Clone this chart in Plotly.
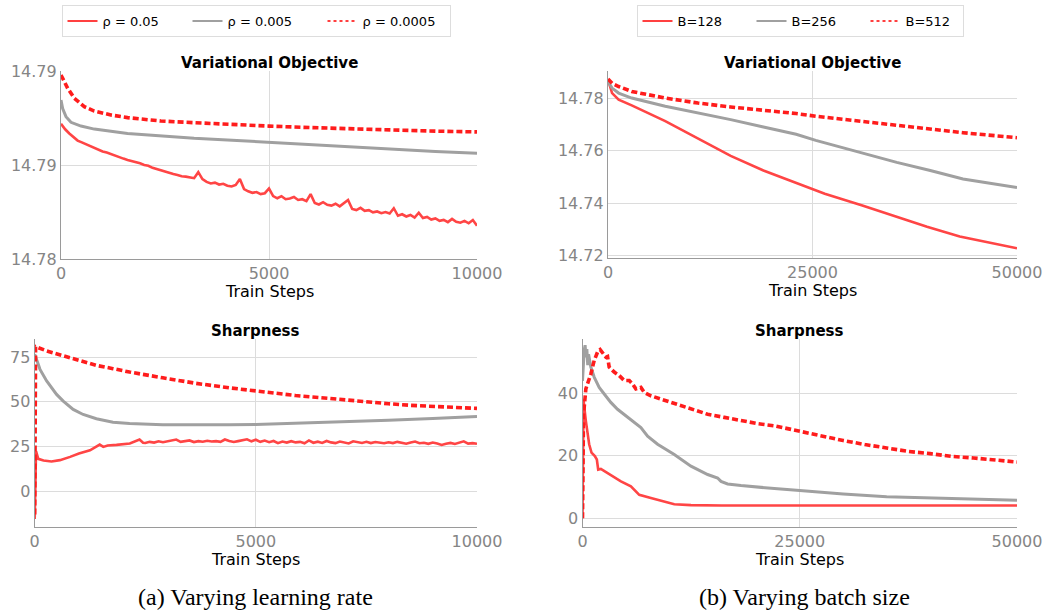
import plotly.graph_objects as go

# ---------------- data: (a) varying learning rate ----------------
a_labels = ["ρ = 0.05", "ρ = 0.005", "ρ = 0.0005"]

# Variational objective
a_obj_steps_r05 = list(range(0, 10001, 100))
a_obj_r05 = [
    14.78719, 14.78690, 14.78668, 14.78648, 14.78630, 14.78620, 14.78610, 14.78602, 14.78590, 14.78580,
    14.78572, 14.78566, 14.78557, 14.78550, 14.78540, 14.78534, 14.78527, 14.78522, 14.78514, 14.78509,
    14.78500, 14.78496, 14.78485, 14.78478, 14.78470, 14.78462, 14.78455, 14.78452, 14.78447, 14.78440,
    14.78438, 14.78432, 14.78430, 14.78462, 14.78425, 14.78410, 14.78402, 14.78406, 14.78396, 14.78400,
    14.78390, 14.78386, 14.78394, 14.78425, 14.78372, 14.78360, 14.78352, 14.78356, 14.78345, 14.78350,
    14.78375, 14.78335, 14.78323, 14.78334, 14.78318, 14.78322, 14.78330, 14.78314, 14.78318, 14.78308,
    14.78345, 14.78298, 14.78290, 14.78302, 14.78288, 14.78284, 14.78294, 14.78280, 14.78296, 14.78314,
    14.78266, 14.78260, 14.78272, 14.78256, 14.78260, 14.78248, 14.78253, 14.78244, 14.78250, 14.78242,
    14.78270, 14.78230, 14.78238, 14.78226, 14.78234, 14.78220, 14.78246, 14.78218, 14.78224, 14.78210,
    14.78216, 14.78203, 14.78208, 14.78196, 14.78213, 14.78198, 14.78193, 14.78203, 14.78190, 14.78207,
    14.78177,
]
a_obj_steps_r005 = [0, 40, 120, 240, 480, 800, 1600, 2400, 3200, 4000, 5000, 6000, 7000, 8000, 9000, 10000]
a_obj_r005 = [14.78846, 14.78800, 14.78757, 14.78727, 14.78707, 14.78691, 14.78668, 14.78654,
              14.78642, 14.78633, 14.78620, 14.78607, 14.78595, 14.78584, 14.78572, 14.78563]
a_obj_steps_r0005 = [0, 160, 320, 560, 800, 1200, 1600, 2400, 3200, 4000, 5000, 6000, 7000, 8000, 9000, 10000]
a_obj_r0005 = [14.78979, 14.78908, 14.78855, 14.78810, 14.78787, 14.78766, 14.78752, 14.78734,
               14.78725, 14.78716, 14.78707, 14.78699, 14.78692, 14.78687, 14.78680, 14.78676]
a_obj_ticks = [14.78, 14.785, 14.79]
a_obj_ticktext = ["14.78", "14.79", "14.79"]

# Sharpness
a_sh_steps_r05 = [0, 30, 80, 200, 380, 570, 800, 1000, 1250, 1400, 1470, 1550, 1650, 1850, 2150, 2370, 2450] + list(range(2500, 10001, 100))
a_sh_r05 = [
    -15.5, 22.4, 18.1, 17.2, 16.6, 17.4, 19.2, 21.1, 22.9, 24.8, 26.1, 24.8, 25.6, 25.9, 26.7, 28.9, 27.1,
    27.0, 27.6, 27.2, 27.9, 27.4,
    27.8, 28.6, 28.9, 27.6, 27.9, 28.4, 27.5, 28.0, 27.7, 28.2,
    27.8, 28.0, 27.6, 28.9, 28.1, 27.5, 28.0, 28.4, 29.0, 27.9,
    28.8, 27.6, 28.3, 27.4, 28.1, 26.9, 27.8, 27.2, 28.0, 27.3,
    27.6, 26.8, 28.4, 27.1, 27.7, 27.0, 28.1, 27.3, 26.9, 27.8,
    27.2, 26.7, 27.9, 27.4, 27.0, 27.6, 26.9, 27.5, 27.1, 26.8,
    27.4, 26.9, 27.6, 27.0, 26.6, 27.3, 27.8, 26.8, 27.1, 26.5,
    27.2, 26.7, 25.9, 26.6, 27.0, 26.4, 27.1, 27.9, 26.6, 26.9,
    26.5,
]
a_sh_steps_r005 = [0, 120, 270, 495, 645, 870, 1095, 1395, 1770, 2145, 2895, 3645, 4395, 4995, 5895, 6645, 7500, 8000, 9000, 10000]
a_sh_r005 = [76.5, 68.1, 61.6, 54.1, 50.4, 45.7, 42.9, 40.5, 38.6, 37.9, 37.1, 36.9, 37.1, 37.3, 37.9, 38.4, 39.2, 39.7, 40.7, 41.7]
a_sh_steps_r0005 = [0, 20, 270, 645, 1020, 1395, 1770, 2145, 2895, 3645, 4395, 4995, 5895, 6645, 7000, 7500, 8000, 8500, 9000, 9500, 10000]
a_sh_r0005 = [-13.0, 80.8, 78.4, 75.6, 72.8, 70.3, 68.5, 66.6, 63.4, 60.3, 57.8, 56.0, 53.5, 51.9, 51.0, 49.9, 48.9, 48.0, 47.3, 46.7, 46.3]
a_sh_ticks = [0, 25, 50, 75]

# ---------------- data: (b) varying batch size ----------------
b_labels = ["B=128", "B=256", "B=512"]

b_obj_steps_128 = [0, 500, 1300, 2900, 7000, 11000, 15000, 19000, 23000, 26500, 31000, 35000, 39000, 43000, 50000]
b_obj_128 = [14.7869, 14.7819, 14.7794, 14.7772, 14.7712, 14.7647, 14.7580, 14.7524, 14.7476, 14.7436,
             14.7392, 14.7351, 14.7310, 14.7273, 14.7228]
b_obj_steps_256 = [0, 500, 1300, 2900, 7000, 11000, 15000, 19000, 23000, 25400, 27200, 31300, 35300, 39400, 43400, 50000]
b_obj_256 = [14.7863, 14.7838, 14.7819, 14.7800, 14.7769, 14.7744, 14.7718, 14.7690, 14.7662, 14.7639,
             14.7624, 14.7589, 14.7555, 14.7524, 14.7492, 14.7459]
b_obj_steps_512 = [0, 500, 1300, 2900, 7000, 11000, 15000, 19000, 23000, 25400, 31300, 35300, 39400, 43400, 50000]
b_obj_512 = [14.7873, 14.7856, 14.7844, 14.7825, 14.7800, 14.7781, 14.7766, 14.7754, 14.7741, 14.7731,
             14.7710, 14.7696, 14.7681, 14.7668, 14.7649]
b_obj_ticks = [14.72, 14.74, 14.76, 14.78]

b_sh_steps_128 = [0, 115, 384, 768, 1036, 1420, 1650, 1805, 2110, 2880, 4420, 5570, 6530, 7870, 9410, 10560, 12480, 16000, 25000, 50000]
b_sh_128 = [0.0, 38.0, 31.2, 23.7, 21.0, 19.9, 18.8, 15.6, 15.8, 14.5, 11.8, 10.2, 7.5, 6.5, 5.4, 4.5, 4.2, 4.1, 4.1, 4.1]
b_sh_steps_256 = [0, 100, 200, 300, 400, 500, 600, 700, 800, 960, 1344, 1920, 2500, 3260, 4030, 5180, 6720, 7490, 8640,
                  10560, 12480, 14400, 15550, 15940, 16700, 18240, 20160, 22080, 25000, 27500, 30000, 35000, 40000, 45000, 50000]
b_sh_256 = [44.0, 50.0, 54.0, 55.4, 51.5, 54.2, 49.0, 52.5, 50.2, 48.4, 45.2, 41.9, 39.8, 37.1, 34.9, 32.3, 29.0, 26.3, 23.7,
            20.4, 16.7, 14.0, 12.9, 11.8, 11.0, 10.5, 9.9, 9.5, 8.9, 8.3, 7.8, 6.9, 6.5, 6.1, 5.8]
b_sh_steps_512 = [0, 115, 384, 960, 1344, 1728, 2035, 2420, 2688, 2880, 3070, 3650, 4220, 4800, 5380, 5760, 6140, 6720, 7100,
                  7870, 9020, 10560, 12480, 14400, 16320, 18240, 20160, 22080, 25000, 27500, 30000, 32500, 35000, 37500,
                  40000, 42500, 45000, 47500, 50000]
b_sh_512 = [0.0, 33.0, 41.4, 46.2, 50.5, 53.2, 54.0, 52.7, 51.6, 51.8, 48.4, 46.8, 45.7, 44.1, 44.1, 43.0, 41.4, 41.9, 40.3,
            39.2, 38.2, 36.6, 34.9, 33.3, 32.3, 31.2, 30.3, 29.6, 27.8, 26.3, 24.9, 23.6, 22.5, 21.4,
            20.7, 19.8, 19.3, 18.6, 18.0]
b_sh_ticks = [0, 20, 40]

x_ticks_a = [0, 5000, 10000]
x_ticks_b = [0, 25000, 50000]

captions = ["(a) Varying learning rate", "(b) Varying batch size"]
titles = ["Variational Objective", "Sharpness"]
x_title = "Train Steps"

# ---------------- styling ----------------
W, H = 1053, 613
RED_SOLID = "#ff4545"
GRAY = "#a0a0a0"
RED_DASH = "#ff1c1c"
TICK_COLOR = "#858585"
GRID = "#dcdcdc"


def dom_x(p0, p1):
    return [p0 / W, p1 / W]


def dom_y(top, bottom):
    return [1 - bottom / H, 1 - top / H]


fig = go.Figure()

panels = [
    ("x", "y", (61, 477), (71, 259),
     [(a_obj_steps_r05, a_obj_r05), (a_obj_steps_r005, a_obj_r005), (a_obj_steps_r0005, a_obj_r0005)],
     [0, 10000], [14.78, 14.79], x_ticks_a, a_obj_ticks, a_obj_ticktext, titles[0]),
    ("x2", "y2", (608, 1017), (71, 257.5),
     [(b_obj_steps_128, b_obj_128), (b_obj_steps_256, b_obj_256), (b_obj_steps_512, b_obj_512)],
     [0, 50000], [14.7193, 14.7903], x_ticks_b, b_obj_ticks, None, titles[0]),
    ("x3", "y3", (34.7, 477), (339.3, 526.7),
     [(a_sh_steps_r05, a_sh_r05), (a_sh_steps_r005, a_sh_r005), (a_sh_steps_r0005, a_sh_r0005)],
     [0, 10000], [-19.8, 84.9], x_ticks_a, a_sh_ticks, None, titles[1]),
    ("x4", "y4", (582.5, 1017), (339.3, 526.7),
     [(b_sh_steps_128, b_sh_128), (b_sh_steps_256, b_sh_256), (b_sh_steps_512, b_sh_512)],
     [0, 50000], [-2.7, 57.3], x_ticks_b, b_sh_ticks, None, titles[1]),
]

styles = [
    dict(color=RED_SOLID, width=2.6),
    dict(color=GRAY, width=3),
    dict(color=RED_DASH, width=3.6, dash="6px,3px"),
]

layout_axes = {}
annotations = []
for i, (xa, ya, xd, yd, series, xr, yr, xt, yt, ytt, ttl) in enumerate(panels):
    for (sx, sy), st in zip(series, styles):
        fig.add_trace(go.Scatter(x=sx, y=sy, mode="lines", line=st, xaxis=xa, yaxis=ya,
                                 showlegend=False, hoverinfo="skip"))
    xkey = "xaxis" + xa[1:]
    ykey = "yaxis" + ya[1:]
    layout_axes[xkey] = dict(
        domain=dom_x(*xd), anchor=ya, range=xr, tickvals=xt, ticktext=[str(v) for v in xt],
        showgrid=True, gridcolor=GRID, automargin=False,
        gridwidth=1, zeroline=False, showline=True, linecolor="#9a9a9a", linewidth=1.2,
        ticks="", tickfont=dict(family="DejaVu Sans", size=16, color=TICK_COLOR),
    )
    yax = dict(
        domain=dom_y(*yd), anchor=xa, range=yr, tickvals=yt, showgrid=True, gridcolor=GRID,
        gridwidth=1, zeroline=False, showline=True, linecolor="#9a9a9a", linewidth=1.2, automargin=False,
        ticks="", tickfont=dict(family="DejaVu Sans", size=16, color=TICK_COLOR),
    )
    if ytt is not None:
        yax["ticktext"] = ytt
    layout_axes[ykey] = yax

    cx = (xd[0] + xd[1]) / 2 / W
    # panel title
    annotations.append(dict(
        text="<b>" + ttl + "</b>", x=cx, y=1 - (yd[0] - 8) / H, xref="paper", yref="paper",
        xanchor="center", yanchor="middle", showarrow=False,
        font=dict(family="DejaVu Sans", size=15, color="black"),
    ))
    # x-axis title
    annotations.append(dict(
        text=x_title, x=cx, y=1 - (yd[1] + 22) / H, xref="paper", yref="paper",
        xanchor="center", yanchor="top", showarrow=False, borderpad=0,
        font=dict(family="DejaVu Sans", size=16, color="black"),
    ))

legend_styles = [
    dict(color="#ff0000", width=1.5),
    dict(color="#808080", width=1.5),
    dict(color="#ff0000", width=1.5, dash="dot"),
]
a_widths = [80, 90, 82]
b_widths = [69, 69, 52]
for lab, st, w in zip(a_labels, legend_styles, a_widths):
    fig.add_trace(go.Scatter(x=[None], y=[None], mode="lines", line=st, name=lab, legend="legend",
                             legendwidth=w, xaxis="x", yaxis="y"))
for lab, st, w in zip(b_labels, legend_styles, b_widths):
    fig.add_trace(go.Scatter(x=[None], y=[None], mode="lines", line=st, name=lab, legend="legend2",
                             legendwidth=w, xaxis="x2", yaxis="y2"))

for cx, cap in zip([255, 804], captions):
    annotations.append(dict(
        text=cap, x=cx / W, y=1 - 597 / H, xref="paper", yref="paper", xanchor="center",
        yanchor="middle", showarrow=False, font=dict(family="Liberation Serif", size=24, color="black"),
    ))

legend_common = dict(
    orientation="h", xanchor="center", yanchor="top", y=1 - 5 / H, bgcolor="white",
    bordercolor="#dddddd", borderwidth=1, font=dict(family="DejaVu Sans", size=13, color="black"),
    itemwidth=30, tracegroupgap=0,
)

fig.update_layout(
    width=W, height=H, margin=dict(l=0, r=0, t=0, b=0, autoexpand=False),
    paper_bgcolor="white", plot_bgcolor="white",
    showlegend=True,
    legend=dict(x=256 / W, **legend_common),
    legend2=dict(x=800 / W, **legend_common),
    annotations=annotations,
    **layout_axes,
)

fig.write_html("out.html")
